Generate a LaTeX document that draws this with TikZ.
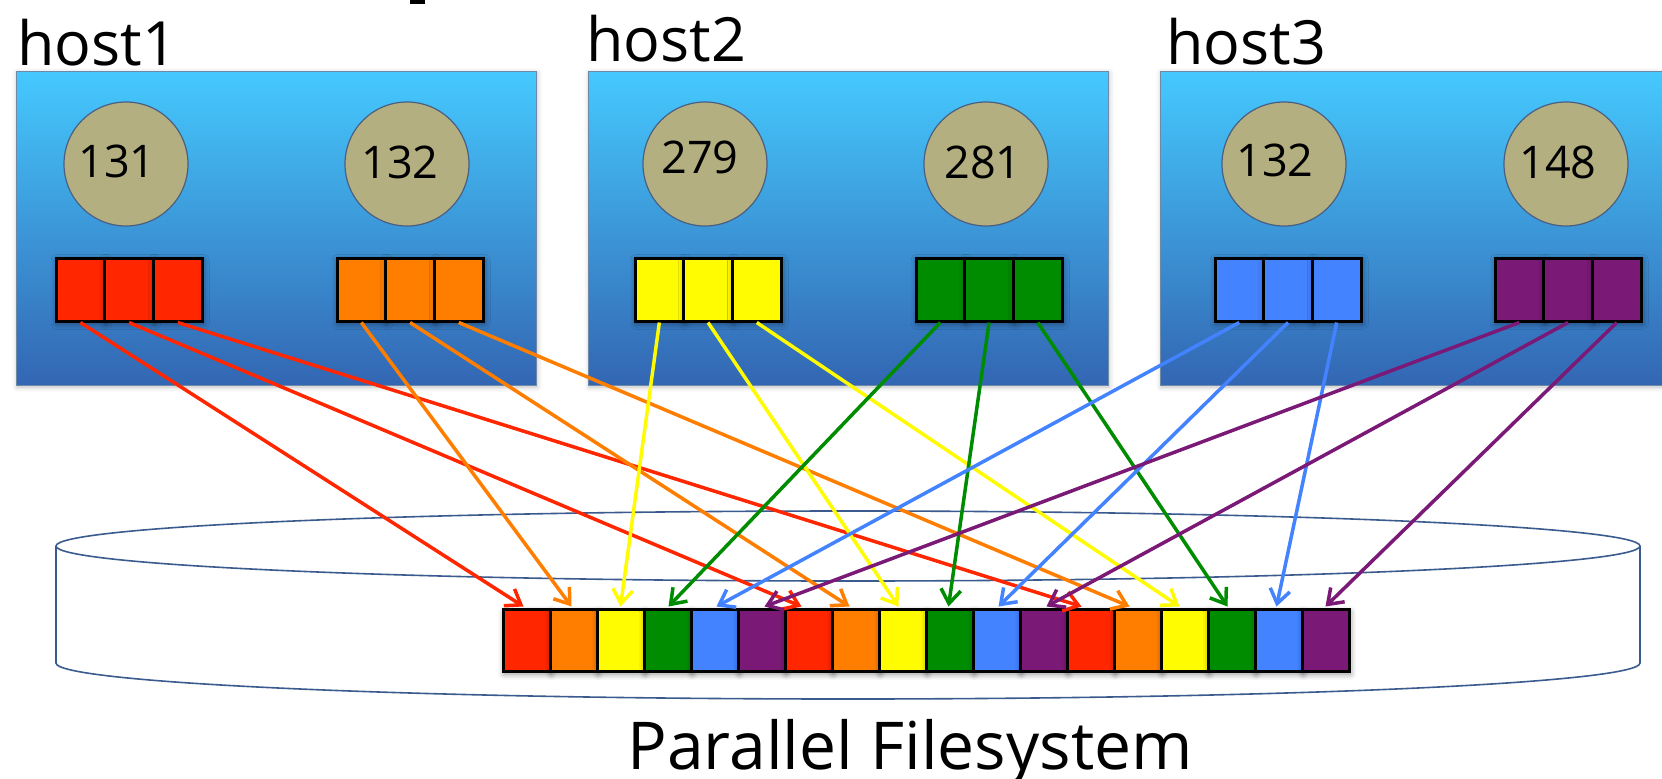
\documentclass[tikz,border=0pt]{standalone}
\usepackage{fontspec}
\setmainfont{Open Sans}
\usetikzlibrary{arrows.meta,shadows.blur,calc}

% chunk colours, one per process
\definecolor{c0}{HTML}{FF2600}
\definecolor{c1}{HTML}{FF7E00}
\definecolor{c2}{HTML}{FFFB00}
\definecolor{c3}{HTML}{008C00}
\definecolor{c4}{HTML}{4383FF}
\definecolor{c5}{HTML}{7A1976}
\definecolor{proctan}{HTML}{B3AF80}
\definecolor{procedge}{HTML}{4A5F82}
\definecolor{hosttop}{HTML}{45C9FE}
\definecolor{hostbot}{HTML}{3366B3}
\definecolor{hostedge}{HTML}{6F8AA8}
\definecolor{diskedge}{HTML}{3B5B8E}

\begin{document}
\begin{tikzpicture}[x=0.5pt,y=-0.5pt,
  hostbox/.style={top color=hosttop, bottom color=hostbot, draw=hostedge, line width=0.5pt,
    blur shadow={shadow xshift=0.6pt, shadow yshift=-1pt, shadow blur radius=2.5pt, shadow opacity=25}},
  hostlbl/.style={font=\fontsize{30.5pt}{30.5pt}\selectfont, inner sep=0pt, anchor=base west},
  proc/.style={circle, minimum size=62pt, inner sep=0pt, fill=proctan, draw=procedge, line width=0.6pt},
  num/.style={font=\fontsize{22.5pt}{22.5pt}\selectfont, inner sep=0pt, anchor=base},
  blockcell/.style={rectangle, minimum width=24.35pt, minimum height=31.5pt, inner sep=0pt,
    draw=black, line width=1.5pt,
    blur shadow={shadow xshift=0.6pt, shadow yshift=-1.2pt, shadow blur radius=3pt, shadow opacity=45}},
  stripcell/.style={rectangle, minimum width=23.5pt, minimum height=31pt, inner sep=0pt,
    draw=black, line width=1.5pt,
    blur shadow={shadow xshift=0.6pt, shadow yshift=-1.5pt, shadow blur radius=3pt, shadow opacity=45}},
  disk/.style={draw=diskedge, line width=0.8pt},
  flow/.style={line width=1.75pt, -{Straight Barb[length=7pt,width=10pt]}},
  caption/.style={font=\fontsize{33pt}{33pt}\selectfont, inner sep=0pt, anchor=base west}
]
\useasboundingbox (0,0) rectangle (1662,778);
\clip (0,0) rectangle (1662,778);

% descender of a heading cut by the top edge
\fill (410,0) rectangle (425,4);

% the parallel filesystem drawn as a flat cylinder
\draw[disk] (56,546) -- (56,663) arc[start angle=180, end angle=0, x radius=792, y radius=36] -- (1640,546);
\draw[disk] (848,546) ellipse [x radius=792, y radius=35];

% hosts
\fill[hostbox] (16,71) rectangle (536,385);
\fill[hostbox] (588,71) rectangle (1108,385);
\fill[hostbox] (1160,71) rectangle (1690,385);
\node[hostlbl] (lbl1) at (17,65) {host1};
\node[hostlbl] (lbl2) at (586,61) {host2};
\node[hostlbl] (lbl3) at (1166,64) {host3};

% processes with their ranks
\node[proc] (p0) at (126,164) {};
\node[proc] (p1) at (407,164) {};
\node[proc] (p2) at (705,164) {};
\node[proc] (p3) at (986,164) {};
\node[proc] (p4) at (1284,164) {};
\node[proc] (p5) at (1566,164) {};
\node[num] (n0) at (117,177) {131};
\node[num] (n1) at (400,178) {132};
\node[num] (n2) at (700,173) {279};
\node[num] (n3) at (983,178) {281};
\node[num] (n4) at (1275,176) {132};
\node[num] (n5) at (1558,178) {148};

% three data chunks held by each process
\foreach \bx [count=\i from 0] in {56,337,635,916,1215,1495} {
  \foreach \j in {0,1,2} {
    \node[blockcell, fill=c\i] (b\i-\j) at ({\bx+24.35+48.7*\j},289.5) {};
  }
}

% interleaved chunks in the shared file
\foreach \k in {0,...,17} {
  \pgfmathtruncatemacro\ci{mod(\k,6)}
  \node[stripcell, fill=c\ci] (s\k) at ({526.5+47*\k},640) {};
}

% chunk j of process i lands at slot 6j+i
\foreach \i in {0,...,5} {
  \foreach \j in {0,1,2} {
    \pgfmathtruncatemacro\k{6*\j+\i}
    \pgfmathsetmacro\dx{{-3,-2,0,1,2,3,-7,-6,-4,-1,2,3,-9,-8,-5,-4,-2,0}[\k]}
    \draw[flow, draw=c\i] (b\i-\j.south) -- ($(s\k.north)+(\dx,-1)$);
  }
}

\node[caption] (fs) at (627,769) {Parallel Filesystem};
\end{tikzpicture}
\end{document}
